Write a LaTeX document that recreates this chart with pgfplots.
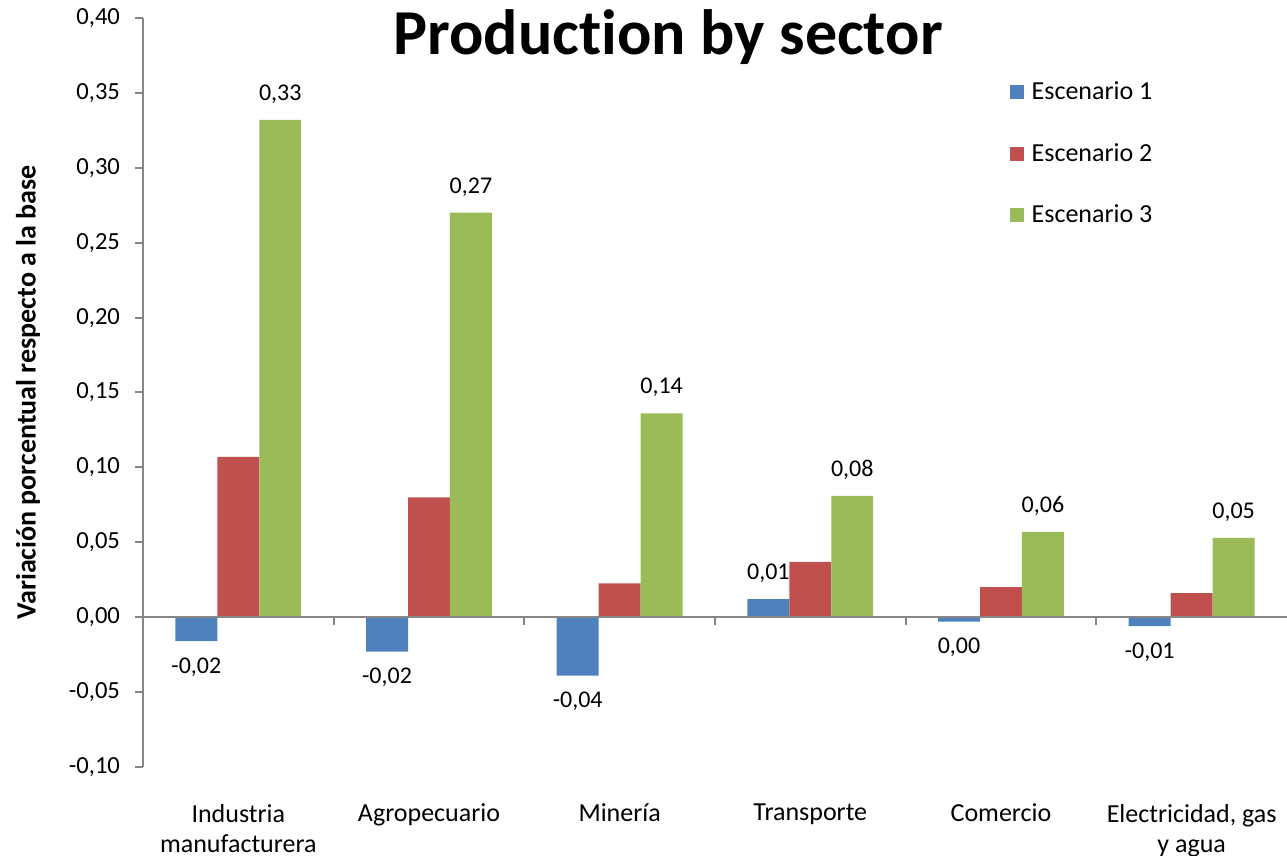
\documentclass[border=0pt]{standalone}
\usepackage{pgfplots}
\pgfplotsset{compat=1.18}
\usepackage{pgfplotstable}
\usepackage{fontspec}
\setmainfont{Carlito}[Ligatures=CommonOff]
\definecolor{sone}{HTML}{4F81BD}
\definecolor{stwo}{HTML}{C0504D}
\definecolor{sthree}{HTML}{9BBB59}
\definecolor{axgray}{HTML}{868686}

\pgfplotstableread{
x s1 s2 s3
0 -0.016 0.107 0.332
1 -0.023 0.080 0.270
2 -0.039 0.0225 0.136
3 0.012 0.037 0.081
4 -0.003 0.020 0.057
5 -0.006 0.016 0.053
}\data

\newcommand{\vallabel}{\pgfkeys{/pgf/fpu=true}\pgfmathparse{abs(\pgfplotspointmeta)<0.005 ? 0 : \pgfplotspointmeta}\pgfmathprintnumber[fixed, fixed zerofill, precision=2, use comma]{\pgfmathresult}}

\begin{document}
\begin{tikzpicture}
\begin{axis}[
  scale only axis, width=572pt, height=374.5pt,
  xmin=-0.5, xmax=5.5, ymin=-0.1, ymax=0.4,
  ybar, bar width=0.22,
  axis y line*=left, axis x line*=bottom,
  x axis line style={draw=none},
  y axis line style={axgray, line width=1.2pt},
  ytick={-0.1,-0.05,0,0.05,0.1,0.15,0.2,0.25,0.3,0.35,0.4},
  ytick style={axgray, line width=1pt},
  tick align=outside, major tick length=4pt,
  xtick={0,1,2,3,4,5}, xtick style={draw=none},
  xticklabels={Industria\\manufacturera, Agropecuario, Minería, Transporte, Comercio, {Electricidad, gas\\y agua}},
  xticklabel style={align=center, font=\fontsize{13}{15}\selectfont, yshift=-11pt},
  /pgf/number format/assume math mode=true,
  yticklabel style={/pgf/number format/.cd, fixed, fixed zerofill, precision=2, use comma, /tikz/.cd, font=\fontsize{12.3}{14}\selectfont, xshift=-4pt},
  ylabel={Variación porcentual respecto a la base},
  ylabel style={at={([xshift=-57.5pt]rel axis cs:0,0.5)}, anchor=center, font=\fontsize{14}{16}\selectfont\bfseries},
  title={Production by sector},
  title style={at={(rel axis cs:0.459,0.9346)}, anchor=base, font=\fontsize{32}{38}\selectfont\bfseries},
  legend image code/.code={\draw[#1,draw=none] (0pt,-3.5pt) rectangle (7pt,3.5pt);},
  legend style={at={(rel axis cs:0.752,0.926)}, anchor=north west, draw=none, fill=none, font=\fontsize{13}{15}\selectfont, row sep=16.2pt, nodes={inner xsep=4pt}},
  legend cell align=left,
  nodes near coords align=vertical,
  clip=false,
]
\addplot[fill=sone, draw=none, bar shift=-0.22, point meta=y,
  nodes near coords={\vallabel},
  nodes near coords style={font=\fontsize{12}{14}\selectfont, inner ysep=8pt}] table[x=x, y=s1] {\data};
\addplot[fill=stwo, draw=none, bar shift=0] table[x=x, y=s2] {\data};
\addplot[fill=sthree, draw=none, bar shift=0.22, point meta=y,
  nodes near coords={\vallabel},
  nodes near coords style={font=\fontsize{12}{14}\selectfont, inner ysep=8pt}] table[x=x, y=s3] {\data};
\legend{Escenario 1, Escenario 2, Escenario 3}
\draw[axgray, line width=1pt] (axis cs:-0.5,0) -- (axis cs:5.5,0);
\draw[axgray, line width=1pt] (axis cs:0.5,0) -- ++(0pt,-4pt);
\draw[axgray, line width=1pt] (axis cs:1.5,0) -- ++(0pt,-4pt);
\draw[axgray, line width=1pt] (axis cs:2.5,0) -- ++(0pt,-4pt);
\draw[axgray, line width=1pt] (axis cs:3.5,0) -- ++(0pt,-4pt);
\draw[axgray, line width=1pt] (axis cs:4.5,0) -- ++(0pt,-4pt);
\coordinate (bl) at (rel axis cs:0,0);
\end{axis}
\pgfresetboundingbox
\path ([xshift=-71.5pt,yshift=-44.5pt]bl) rectangle ([xshift=572pt,yshift=383.5pt]bl);
\end{tikzpicture}
\end{document}
